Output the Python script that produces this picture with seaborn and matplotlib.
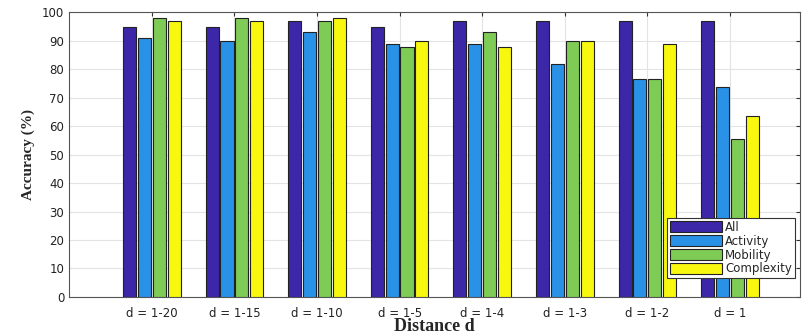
import matplotlib
matplotlib.use("Agg")
import matplotlib.pyplot as plt
import seaborn as sns
import pandas as pd

categories = ["d = 1-20", "d = 1-15", "d = 1-10", "d = 1-5", "d = 1-4", "d = 1-3", "d = 1-2", "d = 1"]
series_names = ["All", "Activity", "Mobility", "Complexity"]
all_vals = [95, 95, 97, 95, 97, 97, 97, 97]
activity_vals = [91, 90, 93, 89, 89, 82, 76.7, 73.7]
mobility_vals = [98, 98, 97, 88, 93, 90, 76.7, 55.5]
complexity_vals = [97, 97, 98, 90, 88, 90, 89, 63.7]
yticks = list(range(0, 101, 10))

colors = ["#3b27a8", "#2992e6", "#7ecb55", "#f7f70f"]

rows = []
for name, vals in zip(series_names, [all_vals, activity_vals, mobility_vals, complexity_vals]):
    for c, v in zip(categories, vals):
        rows.append({"Distance": c, "Accuracy": v, "Series": name})
df = pd.DataFrame(rows)

sns.set_style("white")
plt.rcParams["font.family"] = ["DejaVu Sans"]

fig = plt.figure(figsize=(8.05, 3.34), dpi=100)
ax = fig.add_axes([0.086, 0.111, 0.908, 0.852])

sns.barplot(data=df, x="Distance", y="Accuracy", hue="Series", order=categories,
            hue_order=series_names, palette=colors, saturation=1, width=0.72, gap=0.12,
            edgecolor="#222222", linewidth=0.8, ax=ax, zorder=3)

ax.set_xlim(-1.0, 7.85)
ax.set_ylim(0, 100)
ax.set_yticks(yticks)
ax.grid(True, color="#e3e3e3", linewidth=0.8, zorder=0)
ax.set_axisbelow(True)
ax.tick_params(axis="both", direction="in", length=3, labelsize=8.5,
               colors="#333333", top=True, right=True, labelcolor="#222222")
ax.tick_params(axis="x", pad=7)
for s in ax.spines.values():
    s.set_visible(True)
    s.set_color("#555555")
    s.set_linewidth(0.8)

ax.set_xlabel("Distance d", fontfamily="Liberation Serif", fontweight="bold", fontsize=13, labelpad=-1)
ax.set_ylabel("Accuracy (%)", fontfamily="Liberation Serif", fontweight="bold", fontsize=11, labelpad=5)

leg = ax.legend(loc="lower right", bbox_to_anchor=(0.993, 0.065), fontsize=8.5,
                handlelength=4.4, handleheight=0.95,
                labelspacing=0.08, borderpad=0.25, borderaxespad=0.0, handletextpad=0.3,
                frameon=True, fancybox=False, title=None)
leg.get_frame().set_edgecolor("#333333")
leg.get_frame().set_linewidth(0.8)
leg.get_frame().set_facecolor("white")
leg.get_frame().set_alpha(1.0)

fig.savefig("out.png", dpi=100)
